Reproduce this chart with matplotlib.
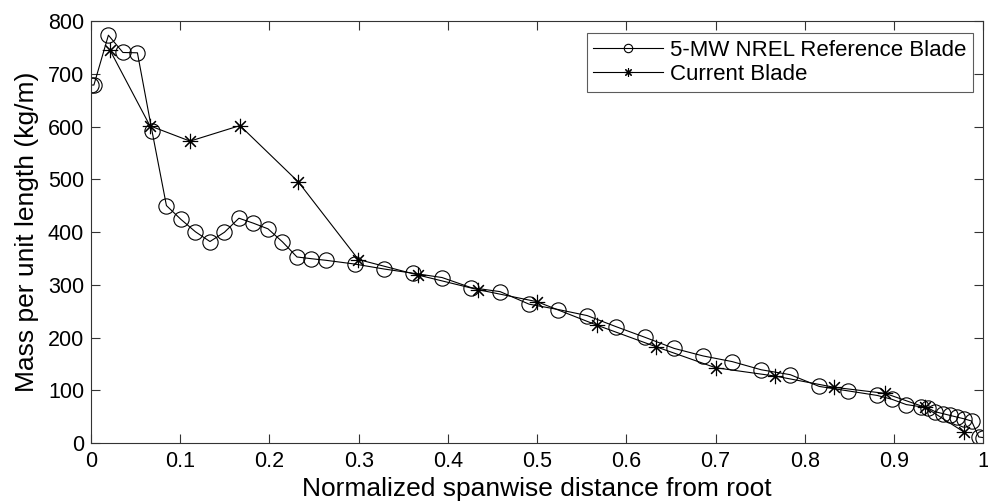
import numpy as np
import matplotlib
matplotlib.use("Agg")
import matplotlib.pyplot as plt
from matplotlib.ticker import MultipleLocator, FuncFormatter

plt.rcParams['font.family'] = ['Liberation Sans', 'DejaVu Sans']

# 5-MW NREL reference blade (normalized span, mass per unit length)
ref_span = [0.0, 0.00325, 0.01951, 0.03577, 0.05203, 0.06829, 0.08455, 0.10081,
            0.11707, 0.13335, 0.14959, 0.16585, 0.18211, 0.19837, 0.21465, 0.23089,
            0.24715, 0.26341, 0.29595, 0.32846, 0.36098, 0.39350, 0.42602, 0.45855,
            0.49106, 0.52358, 0.55610, 0.58862, 0.62115, 0.65366, 0.68618, 0.71870,
            0.75122, 0.78376, 0.81626, 0.84878, 0.88130, 0.89756, 0.91382, 0.93008,
            0.93821, 0.94636, 0.95447, 0.96260, 0.97073, 0.97886, 0.98699, 0.99512, 1.0]
ref_mass = [678.9, 678.9, 773.4, 740.6, 740.0, 592.5, 450.3, 424.1,
            400.6, 382.1, 399.7, 426.3, 416.8, 406.2, 381.4, 352.8,
            349.5, 346.5, 339.3, 330.0, 322.0, 313.8, 294.7, 287.1,
            263.3, 253.2, 241.7, 220.6, 200.3, 179.4, 165.1, 154.4,
            138.9, 129.6, 107.3, 98.8, 90.2, 83.0, 72.9, 68.8,
            66.3, 59.3, 55.9, 52.5, 49.1, 45.8, 41.7, 11.5, 10.3]

# current blade
cur_span = [0.0213, 0.0661, 0.111, 0.167, 0.2325, 0.2997, 0.3667, 0.4333, 0.5,
            0.5667, 0.6333, 0.7, 0.7667, 0.8333, 0.89, 0.935, 0.978]
cur_mass = [745, 601.5, 572.5, 602, 495, 348, 318.5, 291, 268,
            223.7, 182.6, 142.8, 127, 105.6, 94.2, 67.7, 21.4]

fig = plt.figure(figsize=(9.88, 5.04), dpi=100)
ax = fig.add_axes([0.0921, 0.121, 0.903, 0.837])

ax.plot(ref_span, ref_mass, color='k', lw=0.8, marker='o', ms=11,
        mfc='none', mec='k', mew=0.8, label='5-MW NREL Reference Blade')
ax.plot(cur_span, cur_mass, color='k', lw=0.8, marker=(8, 2, 0), ms=11,
        mec='k', mew=0.8, label='Current Blade')

ax.set_xlim(0, 1)
ax.set_ylim(0, 800)
ax.xaxis.set_major_locator(MultipleLocator(0.1))
ax.yaxis.set_major_locator(MultipleLocator(100))
ax.xaxis.set_major_formatter(FuncFormatter(lambda v, p: '%g' % round(v, 2)))
ax.tick_params(direction='in', top=True, right=True, labelsize=15.5,
               length=6.5, width=0.8, color='#333333')
ax.tick_params(axis='x', pad=6)
ax.tick_params(axis='y', pad=5)
for s in ax.spines.values():
    s.set_linewidth(0.8)
    s.set_color('#333333')

ax.set_xlabel('Normalized spanwise distance from root', fontsize=19, labelpad=3)
ax.set_ylabel('Mass per unit length (kg/m)', fontsize=19, labelpad=6)

leg = ax.legend(loc='upper right', bbox_to_anchor=(0.9888, 0.9716), fontsize=16,
                frameon=True, fancybox=False, edgecolor='#333333', markerscale=0.55,
                handlelength=3.15, handletextpad=0.3, borderpad=0.3,
                labelspacing=0.15, borderaxespad=0)
leg.get_frame().set_linewidth(0.8)

fig.savefig('out.png', dpi=100)
